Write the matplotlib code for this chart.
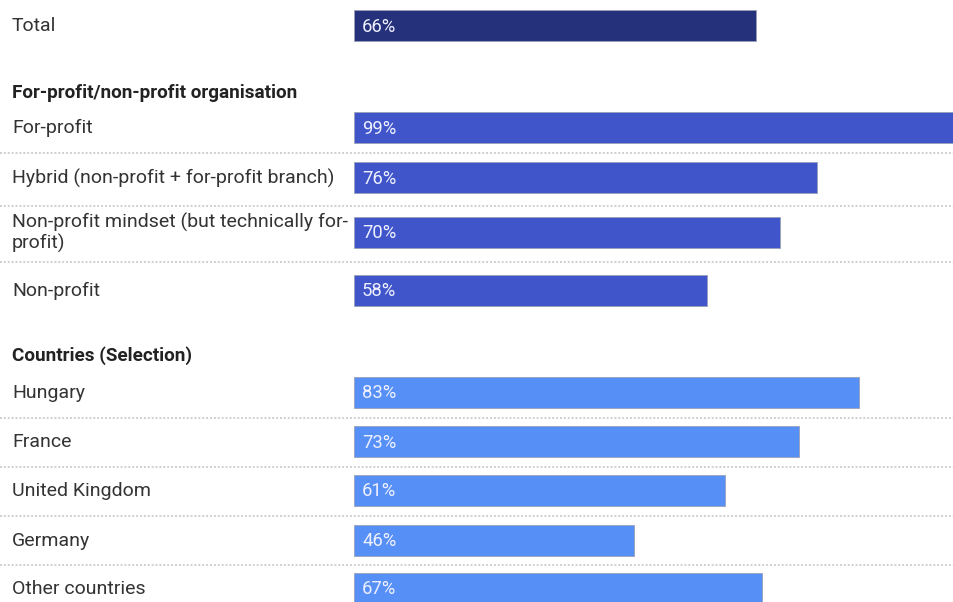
import matplotlib.pyplot as plt

plt.rcParams['font.family'] = ['Roboto', 'DejaVu Sans']

# rows: (label, value, group)
total_label = ['Total']
total_values = [66]

org_header = 'For-profit/non-profit organisation'
org_labels = ['For-profit', 'Hybrid (non-profit + for-profit branch)',
              'Non-profit mindset (but technically for-\nprofit)', 'Non-profit']
org_values = [99, 76, 70, 58]

country_header = 'Countries (Selection)'
country_labels = ['Hungary', 'France', 'United Kingdom', 'Germany', 'Other countries']
country_values = [83, 73, 61, 46, 67]

colors = {'total': '#25317a', 'org': '#4055c9', 'country': '#5690f6'}

W, H = 954, 602
px_per_pct = 6.09
bar_left_px = 354

fig = plt.figure(figsize=(W / 100, H / 100), dpi=100)
ax = fig.add_axes([0, 0, 1, 1])
ax.set_xlim(-bar_left_px / px_per_pct, (W - bar_left_px) / px_per_pct)
ax.set_ylim(H, 0)
ax.axis('off')

label_x = -bar_left_px / px_per_pct + 12 / px_per_pct
value_x = 8 / px_per_pct
bar_h = 31


def draw_group(labels, values, centers, color, header=None, header_y=None):
    if header:
        ax.text(label_x, header_y + 1, header, fontsize=13.6, fontweight='bold',
                color='#222222', va='center', ha='left')
    for i, (lab, val, yc) in enumerate(zip(labels, values, centers)):
        ax.barh(yc, val, height=bar_h, left=0, color=color,
                edgecolor='#9aa0b8', linewidth=0.6)
        ax.text(label_x, yc + 1, lab, fontsize=14, color='#333333',
                va='center', ha='left', linespacing=1.12)
        ax.text(value_x, yc + 1.5, f'{val}%', fontsize=13.3, color='#eef0ff',
                va='center', ha='left')
        if i < len(labels) - 1:
            sep = (yc + centers[i + 1]) / 2 + 1
            ax.plot([ax.get_xlim()[0], ax.get_xlim()[1]], [sep, sep],
                    linestyle=(0, (1, 1)), color='#cfcfcf', lw=1.4)


draw_group(total_label, total_values, [25], colors['total'])
draw_group(org_labels, org_values, [127, 177, 232, 290], colors['org'],
           header=org_header, header_y=92)
draw_group(country_labels, country_values, [392, 441, 490, 540, 588],
           colors['country'], header=country_header, header_y=355)

fig.savefig('out.png', dpi=100)
